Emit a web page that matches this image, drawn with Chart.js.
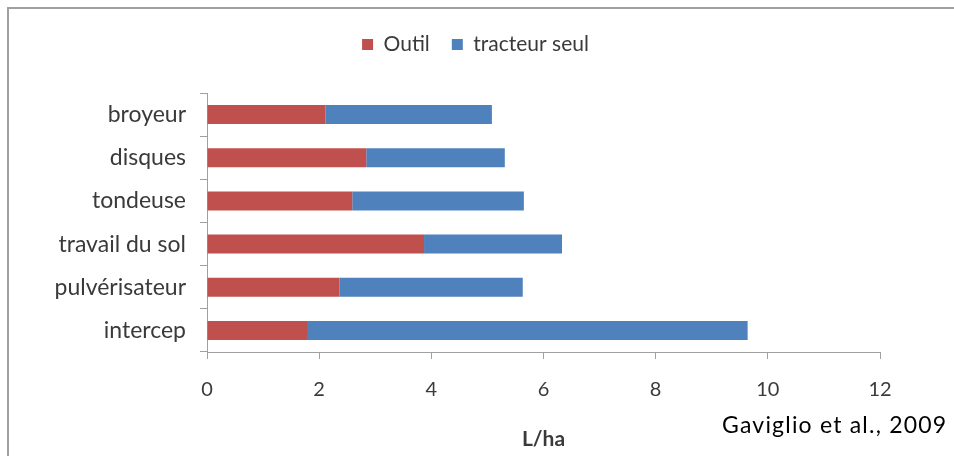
<!DOCTYPE html>
<html>
<head>
<meta charset="utf-8">
<script src="https://cdn.jsdelivr.net/npm/chart.js@4"></script>
<style>
  html, body { margin: 0; padding: 0; background: #fff; }
  #wrap { position: relative; width: 954px; height: 456px; overflow: hidden; }
  #frame { position: absolute; left: 7px; top: 7px; width: 960px; height: 460px;
           border-left: 2px solid #a0a0a0; border-top: 2px solid #a0a0a0; box-sizing: border-box; }
  #source { position: absolute; left: 722px; top: 410px; font-family: Lato, sans-serif;
            font-size: 23px; letter-spacing: 1.2px; color: #000; white-space: nowrap; }
</style>
</head>
<body>
<div id="wrap">
  <div id="frame"></div>
  <canvas id="myCanvas" width="954" height="456"></canvas>
  <div id="source">Gaviglio et al., 2009</div>
</div>
<script>
// data (L/ha)
const categories = ['broyeur', 'disques', 'tondeuse', 'travail du sol', 'pulvérisateur', 'intercep'];
const outil = [2.11, 2.84, 2.59, 3.87, 2.36, 1.80];
const tracteurSeul = [2.97, 2.47, 3.06, 2.46, 3.27, 7.84];
const xTicks = [0, 2, 4, 6, 8, 10, 12];

// extra room between the legend and the plot
const legendMargin = {
  id: 'legendMargin',
  beforeInit(chart) {
    const fit = chart.legend.fit;
    chart.legend.fit = function () {
      fit.bind(chart.legend)();
      this.height += 28;
    };
  }
};

const canvas = document.getElementById('myCanvas');
if (canvas) {
  const ctx = canvas.getContext('2d');
  Chart.defaults.font.family = 'Lato, sans-serif';
  Chart.defaults.color = '#3a3a3a';

  new Chart(ctx, {
    type: 'bar',
    data: {
      labels: categories,
      datasets: [
        { label: 'Outil', data: outil, backgroundColor: '#C0504D', borderWidth: 0 },
        { label: 'tracteur seul', data: tracteurSeul, backgroundColor: '#4F81BD', borderWidth: 0 }
      ]
    },
    options: {
      indexAxis: 'y',
      responsive: false,
      animation: false,
      layout: { padding: { left: 71, right: 74, top: 12, bottom: 0 } },
      datasets: { bar: { barPercentage: 0.44, categoryPercentage: 1 } },
      plugins: {
        legend: {
          position: 'top',
          labels: { boxWidth: 11, boxHeight: 11, padding: 22, font: { size: 21 } }
        },
        tooltip: { enabled: false }
      },
      scales: {
        x: {
          stacked: true,
          min: 0,
          max: 12,
          afterBuildTicks: (scale) => { scale.ticks = xTicks.map(v => ({ value: v })); },
          afterFit: (scale) => { scale.height = 104; },
          grid: { drawOnChartArea: false, tickLength: 7, color: '#a0a0a0' },
          border: { color: '#a0a0a0' },
          ticks: { padding: 19, font: { size: 20 } },
          title: { display: true, text: 'L/ha', font: { size: 21, weight: 'bold' }, padding: { top: 5 } }
        },
        y: {
          stacked: true,
          afterFit: (scale) => {
            scale.width = 136;
            // labels run further left than the scale box, don't clip them
            scale._computeLabelArea = () => undefined;
          },
          grid: { drawOnChartArea: false, tickLength: 7, color: '#a0a0a0', offset: true },
          border: { color: '#a0a0a0' },
          ticks: { padding: 14, font: { size: 23 } }
        }
      }
    },
    plugins: [legendMargin]
  });
} else {
  console.error('Canvas element not found.');
}
</script>
</body>
</html>
